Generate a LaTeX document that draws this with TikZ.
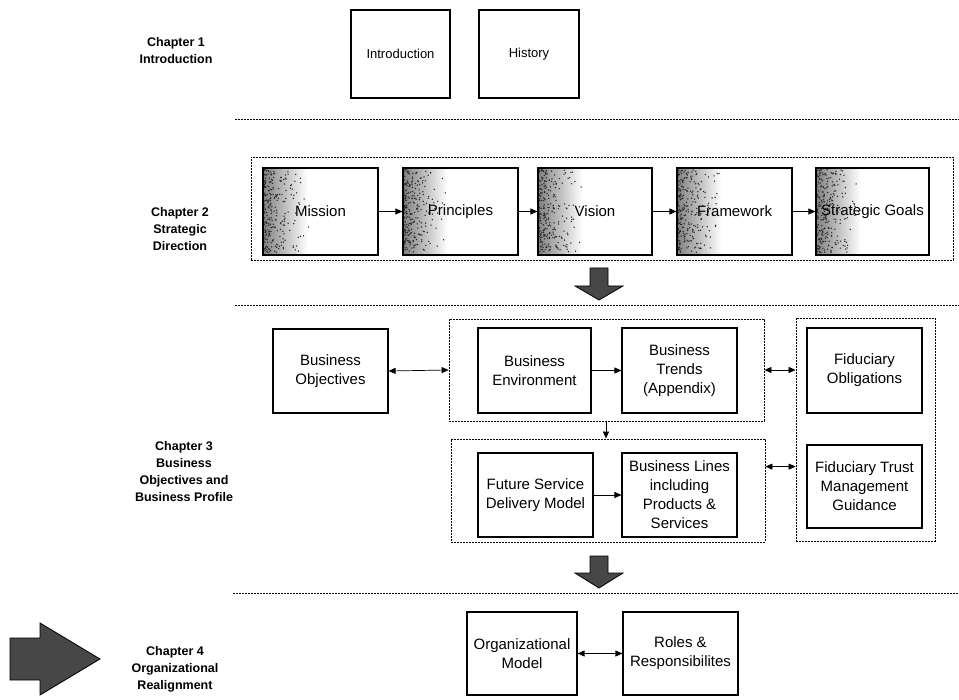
\documentclass[tikz,border=0pt]{standalone}
\usepackage{fontspec}
\setmainfont{Liberation Sans}
\usetikzlibrary{arrows.meta,backgrounds,calc}

\tikzset{
  box/.style={draw, line width=1.1pt, inner sep=2pt, align=center,
    font=\fontsize{15}{19}\selectfont},
  smallbox/.style={box, font=\fontsize{13}{16}\selectfont},
  frame/.style={draw, line width=0.8pt, dash pattern=on 1.6pt off 1.4pt, inner sep=0pt},
  divider/.style={line width=0.8pt, dash pattern=on 1.6pt off 1.4pt},
  chap/.style={align=center, font=\fontsize{12.5}{17}\selectfont\bfseries},
  tip/.style={-{Triangle[length=7pt,width=6pt]}},
  link/.style={line width=0.7pt, tip},
  twoway/.style={line width=0.7pt, {Triangle[length=7pt,width=6pt]}-{Triangle[length=7pt,width=6pt]}},
  blockarrow/.style={draw, line width=0.8pt, fill=black!72},
  speckle/.style={left color=black!50, middle color=black!10, right color=white},
  grain/.style={fill=black!85},
}

\begin{document}
\begin{tikzpicture}[x=1pt,y=-1pt]
\useasboundingbox (0,0) rectangle (959,700);

% chapter captions
\node[chap] (c1) at (176,51) {Chapter 1\\Introduction};
\node[chap] (c2) at (180,229.5) {Chapter 2\\Strategic\\Direction};
\node[chap] (c3) at (184,472) {Chapter 3\\Business\\Objectives and\\Business Profile};
\node[chap] (c4) at (175,669) {Chapter 4\\Organizational\\Realignment};

% chapter 1
\node[smallbox, minimum width=99pt, minimum height=88pt] (intro) at (400.5,54) {Introduction};
\node[smallbox, minimum width=100pt, minimum height=88pt] (hist) at (529,54) {History};

\draw[divider] (235,119) -- (959,119);

% chapter 2
\node[frame, minimum width=702pt, minimum height=103pt] (f0) at (602,208.5) {};
\node[box, minimum width=115pt, minimum height=87pt] (mission) at (320.5,211.5) {Mission};
\node[box, minimum width=115pt, minimum height=87pt] (principles) at (460.5,211.5) {Principles};
\node[box, minimum width=114pt, minimum height=87pt] (vision) at (595,211.5) {Vision};
\node[box, minimum width=115pt, minimum height=87pt] (framework) at (734.5,211.5) {Framework};
\node[box, minimum width=113pt, minimum height=87pt, inner sep=0pt] (goals) at (872.5,211.5) {Strategic Goals};

% grainy fade along the left side of each strategy box
\begin{pgfonlayer}{background}
  \pgfmathsetseed{4242}
  \foreach \n in {mission,principles,vision,framework,goals}{
    \shade[speckle] (\n.north west) rectangle ($(\n.south west)+(45,0)$);
    \foreach \k in {1,...,260}{
      \pgfmathsetmacro{\dx}{1+46*rnd*rnd}
      \pgfmathsetmacro{\dy}{2+83*rnd}
      \fill[grain] ($(\n.north west)+(\dx,\dy)$) circle[radius=0.75pt];
    }
  }
\end{pgfonlayer}

\draw[link] (mission) -- (principles);
\draw[link] (principles) -- (vision);
\draw[link] (vision) -- (framework);
\draw[link] (framework) -- (goals);

\draw[blockarrow] (590,268) -- (608,268) -- (608,286) -- (623,286) -- (599,300)
  -- (575,286) -- (590,286) -- cycle;

\draw[divider] (235,305) -- (959,305);

% chapter 3
\node[frame, minimum width=315pt, minimum height=102pt] (f1) at (606.5,370) {};
\node[frame, minimum width=314pt, minimum height=103pt] (f2) at (608,490.5) {};
\node[frame, minimum width=139pt, minimum height=223pt] (f3) at (865.5,429.5) {};

\node[box, minimum width=115pt, minimum height=84pt] (bo) at (330.5,371) {Business\\Objectives};
\node[box, minimum width=113pt, minimum height=85pt] (be) at (534.5,370.5) {Business\\Environment};
\node[box, minimum width=115pt, minimum height=85pt] (bt) at (679.5,370.5) {Business\\Trends\\(Appendix)};
\node[box, minimum width=115pt, minimum height=84pt] (fsdm) at (535.5,495) {Future Service\\Delivery Model};
\node[box, minimum width=115pt, minimum height=84pt] (bl) at (679.5,495) {Business Lines\\including\\Products \&\\Services};
\node[box, minimum width=115pt, minimum height=85pt] (fo) at (864.5,370.5) {Fiduciary\\Obligations};
\node[box, minimum width=115pt, minimum height=83pt, inner sep=0pt] (ftmg) at (864.5,486.5) {Fiduciary Trust\\Management\\Guidance};

\draw[twoway] (bo.east) -- (f1.west);
\draw[link] (be) -- (bt);
\draw[link] (fsdm) -- (bl);
\draw[twoway] (f1.east) -- (f1.east -| f3.west);
\coordinate (l2) at ([yshift=-28pt]f2.north east);
\draw[twoway] (l2) -- (l2 -| f3.west);
\coordinate (d1) at (606,421);
\draw[link] (d1) -- (d1 |- f2.north);

\draw[blockarrow] (590,556) -- (608,556) -- (608,573) -- (623,573) -- (599,588)
  -- (575,573) -- (590,573) -- cycle;

\draw[divider] (233,593) -- (959,593);

% chapter 4
\node[box, minimum width=110pt, minimum height=83pt] (om) at (522,653.5) {Organizational\\Model};
\node[box, minimum width=115pt, minimum height=83pt] (rr) at (680.5,653.5) {Roles \&\\Responsibilites};
\draw[twoway] (om) -- (rr);

\draw[blockarrow] (10,638) -- (40,638) -- (40,623) -- (100,659) -- (40,695)
  -- (40,680) -- (10,680) -- cycle;
\end{tikzpicture}
\end{document}
